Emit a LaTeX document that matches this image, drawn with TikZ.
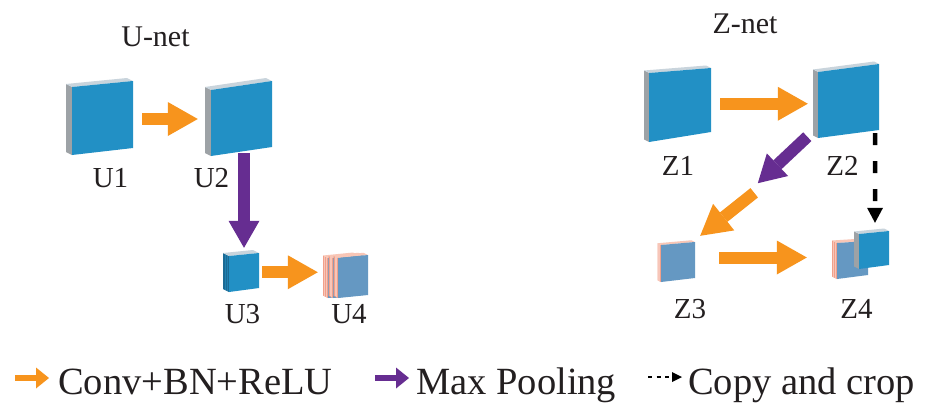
\documentclass[tikz,border=0pt]{standalone}
\usepackage{fontspec}
\setmainfont{Liberation Serif}
\usetikzlibrary{arrows.meta,calc}
\definecolor{cblue}{HTML}{2290C5}
\definecolor{csteel}{HTML}{6598C2}
\definecolor{cgray}{HTML}{9DA2A6}
\definecolor{clgray}{HTML}{C9D4DC}
\definecolor{cdblue}{HTML}{1C6A94}
\definecolor{cpink}{HTML}{F2A08A}
\definecolor{clpink}{HTML}{F8C6B6}
\definecolor{corange}{HTML}{F7941D}
\definecolor{cpurple}{HTML}{662D91}
\definecolor{ctext}{HTML}{231F20}
\tikzset{
  blueblock/.code={\colorlet{fcol}{cblue}\colorlet{scol}{cgray}\colorlet{tcol}{clgray}\colorlet{lcol}{cgray}},
  darkblock/.code={\colorlet{fcol}{cblue}\colorlet{scol}{cdblue}\colorlet{tcol}{clgray}\colorlet{lcol}{cblue!60!cdblue}},
  pinkblock/.code={\colorlet{fcol}{csteel}\colorlet{scol}{cpink}\colorlet{tcol}{clpink}\colorlet{lcol}{cpink!60!white}},
  oarr/.style={corange, line width=12pt, -{Triangle[length=30pt,width=34pt,line width=0pt]}},
  parr/.style={cpurple, line width=12pt, -{Triangle[length=27pt,width=31pt,line width=0pt]}},
  darr/.style={black, line width=4.5pt, dash pattern=on 12pt off 16pt, -{Triangle[length=15pt,width=16pt,line width=0pt]}},
  loarr/.style={corange, line width=6pt, -{Triangle[length=13pt,width=21pt,line width=0pt]}},
  lparr/.style={cpurple, line width=6pt, -{Triangle[length=13pt,width=21pt,line width=0pt]}},
  ldarr/.style={black, line width=2.8pt, dash pattern=on 4pt off 4.5pt, -{Triangle[length=10pt,width=10pt,line width=0pt]}},
  lbl/.style={font=\fontsize{29}{29}\selectfont, text=ctext, anchor=base, inner sep=0pt},
  ttl/.style={font=\fontsize{30}{30}\selectfont, text=ctext, anchor=base, inner sep=0pt},
  leg/.style={font=\fontsize{38.5}{38.5}\selectfont, text=ctext, anchor=base west, inner sep=0pt},
}
% #1 name, #2 x, #3 y (top-left of front face), #4 w, #5 h, #6 top slope, #7 bottom slope, #8 scheme, #9 depth
\newcommand{\blockcube}[9]{%
  \begin{scope}[#8]
    \fill[scol] (#2,#3) -- (#2,#3+#5) -- (#2-#9,#3+#5-0.5*#9) -- (#2-#9,#3-0.5*#9) -- cycle;
    \draw[lcol, line width=0.6pt] (#2-0.35*#9,#3-0.175*#9) -- ++(0,#5);
    \draw[lcol, line width=0.6pt] (#2-0.7*#9,#3-0.35*#9) -- ++(0,#5);
    \fill[tcol] (#2,#3) -- (#2+#4,#3-#6) -- (#2+#4-#9,#3-#6-0.5*#9) -- (#2-#9,#3-0.5*#9) -- cycle;
    \fill[fcol] (#2,#3) -- (#2+#4,#3-#6) -- (#2+#4,#3+#5-#7) -- (#2,#3+#5) -- cycle;
    \node[inner sep=0pt, minimum width=#4pt, minimum height=#5pt] (#1) at (#2+0.5*#4, #3+0.5*#5-0.25*#6-0.25*#7) {};
  \end{scope}}
\begin{document}
\begin{tikzpicture}[x=1pt, y=-1pt]
\fill[white] (0,0) rectangle (926,402);
\useasboundingbox (0,0) rectangle (926,402);

% U-net
\node[ttl] (T1) at (155.5,46) {U-net};
\blockcube{U1}{72}{87}{61}{68}{6}{7}{blueblock}{6}
\blockcube{U2}{211}{90}{61}{66}{9}{9}{blueblock}{6}
\blockcube{U3}{229}{256}{30}{36}{3}{4}{darkblock}{6}
\blockcube{U4a}{328}{258}{30}{40}{3}{3}{pinkblock}{5}
\blockcube{U4b}{333}{258}{30}{40}{3}{3}{pinkblock}{4.5}
\blockcube{U4}{338}{258}{30}{40}{3}{3}{pinkblock}{4.5}
\node[lbl] (tU1) at (110.5,187) {U1};
\node[lbl] (tU2) at (211.5,187) {U2};
\node[lbl] (tU3) at (242.5,323) {U3};
\node[lbl] (tU4) at (349,323) {U4};

\draw[oarr] ($(U1.east)+(9,1.25)$) -- ($(U2.west)+(-13,0.5)$);
\draw[parr] ($(U2.south)+(2.5,1.5)$) -- ($(U3.north)+(0,-6.25)$);
\draw[oarr] ($(U3.east)+(3,0)$) -- ($(U3.east -| U4a.west)+(-10,0)$);

% Z-net
\node[ttl] (T2) at (745,33) {Z-net};
\blockcube{Z1}{649}{73}{62}{69}{5}{10}{blueblock}{5}
\blockcube{Z2}{818}{72}{61}{66}{8}{8}{blueblock}{5}
\blockcube{Z3}{661}{245}{34}{37}{3}{4}{pinkblock}{3.5}
\blockcube{Z4p}{837}{243}{31}{36}{2}{4}{pinkblock}{5}
\blockcube{Z4}{859}{234}{30}{35}{3}{4}{blueblock}{5}
\node[lbl] (tZ1) at (678,175) {Z1};
\node[lbl] (tZ2) at (842.5,175) {Z2};
\node[lbl] (tZ3) at (690,318) {Z3};
\node[lbl] (tZ4) at (856.5,318) {Z4};

\draw[oarr] ($(Z1.east)+(9,0)$) -- ($(Z1.east -| Z2.west)+(-10,0)$);
\draw[parr] ($(Z2.south west)+(-10.5,2.5)$) -- ($(Z2.south west)+(-60,49)$);
\draw[oarr] ($(Z3.north east)+(59,-50.25)$) -- ($(Z3.north east)+(5,-7.25)$);
\draw[darr] ($(Z2.south east)+(-4,-1)$) -- ($(Z4.north)+(1,-9.25)$);
\draw[oarr] ($(Z3.east)+(24,-4.25)$) -- ($(Z3.east -| Z4p.west)+(-30,-4.25)$);

% legend
\node[leg] (L1) at (58,394) {Conv+BN+ReLU};
\node[leg] (L2) at (416,394) {Max Pooling};
\node[leg] (L3) at (688,394) {Copy and crop};
\draw[loarr] ($(L1.base west)+(-43,-16)$) -- ($(L1.base west)+(-9,-16)$);
\draw[lparr] ($(L2.base west)+(-41,-16)$) -- ($(L2.base west)+(-7,-16)$);
\draw[ldarr] ($(L3.base west)+(-40,-17)$) -- ($(L3.base west)+(-6,-17)$);
\end{tikzpicture}
\end{document}
